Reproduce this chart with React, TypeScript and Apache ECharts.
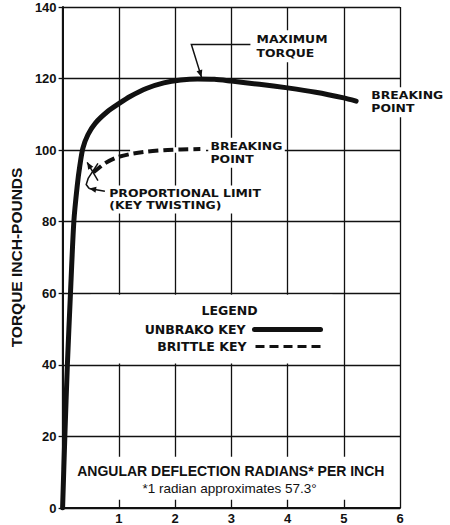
import React, { useEffect, useRef } from 'react';
import * as echarts from 'echarts';

// ---- data ----
const unbrakoX = [0, 0.04, 0.085, 0.14, 0.2, 0.26, 0.31, 0.36, 0.45, 0.58, 0.8, 1.0, 1.2, 1.5, 1.8, 2.1, 2.4, 2.7, 3.0, 3.5, 4.0, 4.5, 5.0, 5.22];
const unbrakoY = [0, 20, 40, 60, 80, 90, 96, 100.5, 104.3, 107.5, 110.8, 113, 115, 117.3, 118.8, 119.6, 119.9, 119.8, 119.3, 118.4, 117.4, 116.2, 114.6, 113.7];
const brittleX = [0.55, 0.75, 0.95, 1.2, 1.5, 1.8, 2.1, 2.45];
const brittleY = [93.8, 96.3, 97.9, 98.9, 99.6, 100, 100.2, 100.3];
const seriesNames = ['UNBRAKO KEY', 'BRITTLE KEY'];
const xMin = 0, xMax = 6, xStep = 1;
const yMin = 0, yMax = 140, yStep = 20;
const yAxisTitle = 'TORQUE INCH-POUNDS';
const xAxisTitle = 'ANGULAR DEFLECTION RADIANS* PER INCH';
const footnote = '*1 radian approximates 57.3°';

const INK = '#111';
const SANS = '"Liberation Sans", Arial, sans-serif';
const WIDE = '"DejaVu Sans", sans-serif';

export default function App() {
  const ref = useRef<HTMLDivElement>(null);
  useEffect(() => {
    const chart = echarts.init(ref.current!, null, { renderer: 'svg' });
    const legendText = { fontFamily: WIDE, fontWeight: 'bold', fontSize: 12.5, color: INK, padding: [0, 4, 0, 0] };
    const legendBase = {
      right: 127, align: 'right', orient: 'vertical', itemWidth: 66, itemHeight: 6, padding: 0,
      selectedMode: false, textStyle: legendText, itemStyle: { opacity: 0 },
    };
    chart.setOption({
      animation: false,
      backgroundColor: '#fff',
      grid: { left: 57, right: 50, top: 7, bottom: 17 },
      xAxis: {
        type: 'value', min: xMin, max: xMax, interval: xStep,
        axisLine: { show: true, onZero: false, lineStyle: { color: INK, width: 2 } },
        axisTick: { show: false },
        splitLine: { show: true, lineStyle: { color: INK, width: 1.3 } },
        axisLabel: { showMinLabel: false, margin: 4, color: INK, fontFamily: SANS, fontWeight: 'bold', fontSize: 13 },
      },
      yAxis: {
        type: 'value', min: yMin, max: yMax, interval: yStep,
        name: yAxisTitle, nameLocation: 'middle', nameGap: 23,
        nameTextStyle: { color: INK, fontFamily: SANS, fontWeight: 'bold', fontSize: 15.5 },
        axisLine: { show: true, lineStyle: { color: INK, width: 2 } },
        axisTick: { show: true, length: 4, lineStyle: { color: INK, width: 1.3 } },
        splitLine: { show: true, lineStyle: { color: INK, width: 1.3 } },
        axisLabel: { margin: 6, color: INK, fontFamily: SANS, fontWeight: 'bold', fontSize: 13 },
      },
      legend: [
        { ...legendBase, data: [seriesNames[0]], top: 323, lineStyle: { width: 5, color: INK } },
        { ...legendBase, data: [seriesNames[1]], top: 340, lineStyle: { width: 3, type: [9, 5], color: INK } },
      ],
      series: [
        {
          type: 'line', name: seriesNames[0], data: unbrakoX.map((x, i) => [x, unbrakoY[i]]),
          smooth: 0.25, symbol: 'none', z: 2, lineStyle: { color: INK, width: 5, join: 'round', cap: 'round' }, itemStyle: { color: INK },
        },
        {
          type: 'line', name: seriesNames[1], data: brittleX.map((x, i) => [x, brittleY[i]]),
          smooth: 0.25, symbol: 'none', z: 2, lineStyle: { color: INK, width: 4, type: [10, 5] }, itemStyle: { color: INK },
        },
      ],
    });

    const P = (x: number, y: number) => chart.convertToPixel({ gridIndex: 0 }, [x, y]) as number[];
    const els: any[] = [];
    const whiteRect = (x0: number, y0: number, x1: number, y1: number) => {
      const a = P(x0, y1), b = P(x1, y0);
      els.push({ type: 'rect', z: 1, silent: true, shape: { x: a[0], y: a[1], width: b[0] - a[0], height: b[1] - a[1] }, style: { fill: '#fff' } });
    };
    whiteRect(0.05, 2.3, 5.95, 14.3);
    whiteRect(0.5, 40.4, 4.8, 59.6);
    whiteRect(1.2, 99.3, 2.55, 100.8);

    const label = (text: string, x: number, y: number, opts: any = {}) => {
      const p = P(x, y);
      els.push({
        type: 'text', z: 3, silent: true, x: p[0], y: p[1], scaleX: opts.scaleX ?? 1,
        style: {
          text, fill: INK, font: opts.font, align: opts.align ?? 'left', verticalAlign: 'middle',
          lineHeight: opts.lineHeight, backgroundColor: opts.bg === false ? undefined : '#fff', padding: opts.bg === false ? 0 : [2, 2],
        },
      });
    };
    const wideFont = `bold 11px ${WIDE}`;
    label('MAXIMUM\nTORQUE', 3.41, 129, { font: wideFont, lineHeight: 14, scaleX: 1.13 });
    label('BREAKING\nPOINT', 5.45, 113.4, { font: wideFont, lineHeight: 13, scaleX: 1.13 });
    label('BREAKING\nPOINT', 2.59, 99.3, { font: wideFont, lineHeight: 13, scaleX: 1.13 });
    label('PROPORTIONAL LIMIT\n(KEY TWISTING)', 0.79, 86.2, { font: wideFont, lineHeight: 12, scaleX: 1.13 });
    label('LEGEND', 2.97, 55.1, { font: `bold 12.5px ${WIDE}`, align: 'center', bg: false });
    label(xAxisTitle, 0.26, 10.3, { font: `bold 14px ${SANS}`, bg: false });
    label(footnote, 1.42, 5.4, { font: `13.5px ${SANS}`, bg: false });

    const lineStyle = { stroke: INK, lineWidth: 1.5, fill: null };
    const poly = (pts: number[][], arrow: boolean) => {
      const px = pts.map(([x, y]) => P(x, y));
      els.push({ type: 'polyline', z: 3, silent: true, shape: { points: px }, style: lineStyle });
      if (arrow) {
        const t = px[px.length - 1], f = px[px.length - 2];
        const dx = t[0] - f[0], dy = t[1] - f[1];
        const len = Math.hypot(dx, dy) || 1;
        const ux = dx / len, uy = dy / len;
        const L = 7, W = 3;
        const bx = t[0] - ux * L, by = t[1] - uy * L;
        els.push({
          type: 'polygon', z: 3, silent: true,
          shape: { points: [t, [bx - uy * W, by + ux * W], [bx + uy * W, by - ux * W]] },
          style: { fill: INK },
        });
      }
    };
    poly([[3.34, 129.5], [2.29, 129.5], [2.47, 120.4]], true);
    poly([[0.629, 91.5], [0.437, 96.6]], true);
    poly([[0.629, 96.3], [0.455, 92.1], [0.42, 90.4], [0.472, 89.3]], false);
    poly([[0.752, 88.5], [0.472, 89.3]], true);

    chart.setOption({ graphic: els });
    return () => chart.dispose();
  }, []);
  return <div ref={ref} style={{ position: 'absolute', left: 0, top: 0, width: 450, height: 525 }} />;
}
